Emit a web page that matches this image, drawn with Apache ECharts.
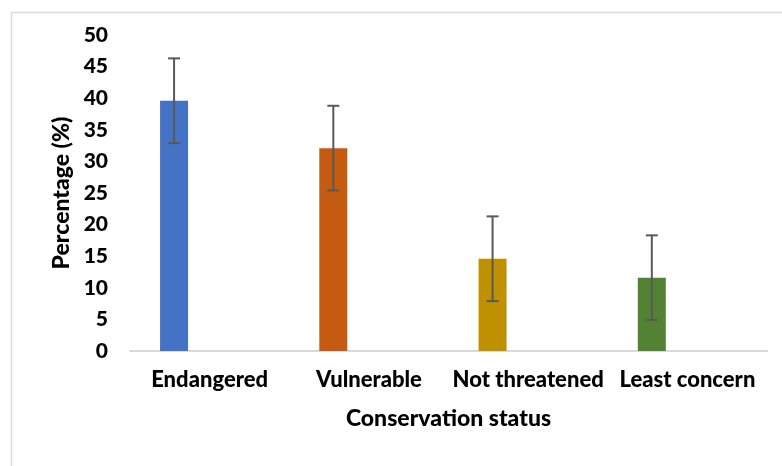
<!DOCTYPE html>
<html>
<head>
<meta charset="utf-8">
<script src="https://cdn.jsdelivr.net/npm/echarts@6/dist/echarts.min.js"></script>
<style>
  html, body { margin: 0; padding: 0; background: #fff; }
  #chart { width: 782px; height: 466px; }
</style>
</head>
<body>
<div id="chart"></div>
<script>
// data
var categories = ['Endangered', 'Vulnerable', 'Not threatened', 'Least concern'];
var percentages = [39.6, 32.1, 14.6, 11.6];
var errors = [6.7, 6.7, 6.7, 6.7];
var barColors = ['#4472C4', '#C55A11', '#BF9000', '#548235'];
var yTicks = [0, 5, 10, 15, 20, 25, 30, 35, 40, 45, 50];

var FONT = 'Lato, "Open Sans", sans-serif';
var WEIGHT = 900;
var BAR_W = 28;
var BAR_GAP = 1.54; // empty second slot, like the excel layout
var shift = -(BAR_W * (1 + BAR_GAP)) / 2;

var chart = echarts.init(document.getElementById('chart'), null, { renderer: 'canvas' });

var option = {
    animation: false,
    backgroundColor: '#fff',
    textStyle: { fontFamily: FONT },
    graphic: [{
        type: 'rect',
        left: 9, top: 10,
        shape: { width: 800, height: 500 },
        style: { fill: 'none', stroke: '#d9d9d9', lineWidth: 1.5 },
        silent: true
    }],
    grid: {
        left: 130,
        right: 15,
        top: 35,
        bottom: 115,
        containLabel: false
    },
    xAxis: {
        type: 'category',
        data: categories,
        name: 'Conservation status',
        nameLocation: 'middle',
        nameGap: 56,
        nameTextStyle: { fontSize: 23, fontWeight: WEIGHT, color: '#000', fontFamily: FONT },
        axisLine: { lineStyle: { color: '#d9d9d9', width: 2 } },
        axisTick: { show: false },
        axisLabel: { fontSize: 22, fontWeight: WEIGHT, color: '#000', margin: 18, fontFamily: FONT, interval: 0 }
    },
    yAxis: {
        type: 'value',
        min: yTicks[0],
        max: yTicks[yTicks.length - 1],
        interval: 5,
        name: 'Percentage (%)',
        nameLocation: 'middle',
        nameGap: 56,
        nameTextStyle: { fontSize: 23, fontWeight: WEIGHT, color: '#000', fontFamily: FONT },
        axisLine: { show: false },
        axisTick: { show: false },
        splitLine: { show: false },
        axisLabel: { fontSize: 21, fontWeight: WEIGHT, color: '#000', margin: 22, fontFamily: FONT }
    },
    series: [
        {
            type: 'bar',
            barWidth: BAR_W,
            barGap: (BAR_GAP * 100) + '%',
            data: percentages.map(function (v, i) {
                return { value: v, itemStyle: { color: barColors[i] } };
            })
        },
        {
            type: 'bar',
            barWidth: BAR_W,
            data: categories.map(function () { return '-'; })
        },
        {
            type: 'custom',
            z: 10,
            data: percentages.map(function (v, i) { return [i, v - errors[i], v + errors[i]]; }),
            renderItem: function (params, api) {
                var lo = api.coord([api.value(0), api.value(1)]);
                var hi = api.coord([api.value(0), api.value(2)]);
                var x = lo[0] + shift;
                var cap = 6;
                var st = { stroke: '#595959', lineWidth: 2 };
                return {
                    type: 'group',
                    children: [
                        { type: 'line', shape: { x1: x, y1: hi[1], x2: x, y2: lo[1] }, style: st },
                        { type: 'line', shape: { x1: x - cap, y1: hi[1], x2: x + cap, y2: hi[1] }, style: st },
                        { type: 'line', shape: { x1: x - cap, y1: lo[1], x2: x + cap, y2: lo[1] }, style: st }
                    ]
                };
            }
        }
    ]
};

chart.setOption(option);
</script>
</body>
</html>
